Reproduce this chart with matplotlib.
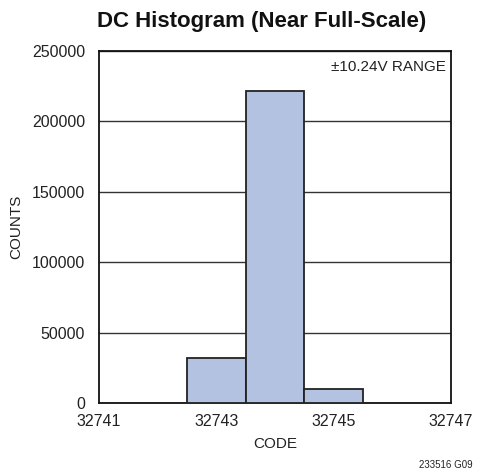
import matplotlib
matplotlib.use('Agg')
import matplotlib.pyplot as plt

plt.rcParams['font.family'] = ['Liberation Sans', 'DejaVu Sans']

# histogram data
codes = [32743, 32744, 32745]
counts = [32200, 221600, 9700]
x_ticks = [32741, 32743, 32745, 32747]
y_ticks = [0, 50000, 100000, 150000, 200000, 250000]

fig = plt.figure(figsize=(4.88, 4.72), dpi=100)
ax = fig.add_axes([99 / 488, 1 - 403 / 472, 352 / 488, 352 / 472])

ax.bar(codes, counts, width=1.0, color='#b3c2e0', edgecolor='#222222', linewidth=1.3, zorder=3)

ax.set_xlim(32741, 32747)
ax.set_ylim(0, 250000)
ax.set_xticks(x_ticks)
ax.set_xticklabels([str(t) for t in x_ticks])
ax.set_yticks(y_ticks)
ax.set_yticklabels([str(t) for t in y_ticks])
ax.grid(axis='y', color='#333333', linewidth=1.0, zorder=0)
ax.tick_params(length=0, labelsize=11.5, colors='#222222', pad=10)
ax.tick_params(axis='x', pad=8)
for s in ax.spines.values():
    s.set_color('#111111')
    s.set_linewidth(1.3)

ax.set_xlabel('CODE', fontsize=11, color='#222222', labelpad=6)
ax.set_ylabel('COUNTS', fontsize=11, color='#222222', labelpad=6)
ax.text(0.985, 0.975, '±10.24V RANGE', transform=ax.transAxes, ha='right', va='top',
        fontsize=11, color='#222222')

fig.text(262 / 488, 1 - 22 / 472, 'DC Histogram (Near Full-Scale)', ha='center', va='center',
         fontsize=16, fontweight='bold', color='#111111')
fig.text(446 / 488, 1 - 465 / 472, '233516 G09', ha='center', va='center', fontsize=7, color='#222222')

fig.savefig('out.png', dpi=100)
